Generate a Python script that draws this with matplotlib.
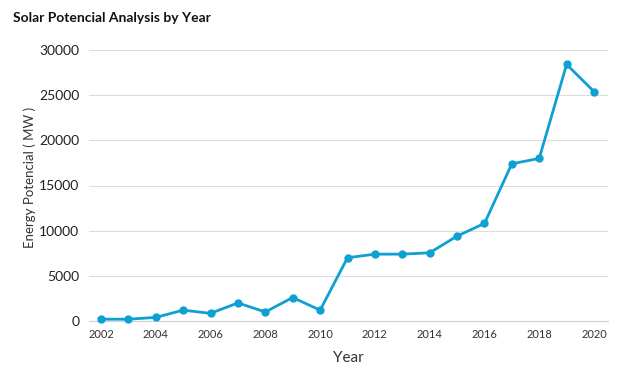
import matplotlib
matplotlib.use("Agg")
import matplotlib.pyplot as plt

years = list(range(2002, 2021))
values = [200, 200, 400, 1200, 850, 2000, 1000, 2600, 1200, 7000,
          7400, 7400, 7550, 9400, 10800, 17400, 18000, 28400, 25400]
xticks = list(range(2002, 2021, 2))
yticks = [0, 5000, 10000, 15000, 20000, 25000, 30000]

plt.rcParams['font.family'] = ['Lato', 'DejaVu Sans']

fig = plt.figure(figsize=(6.29, 3.76), dpi=100)
ax = fig.add_axes([89/629, 1-321/376, (608-89)/629, (321-50)/376])

color = '#0fa0d3'
ax.plot(years, values, color=color, lw=2, marker='o', ms=5, zorder=3, clip_on=False)

ax.set_xlim(2002 - 12/27.39, 2020 + 14/27.39)
ax.set_ylim(0, 30000)
ax.set_xticks(xticks)
ax.set_yticks(yticks)
ax.set_xticklabels([str(t) for t in xticks], fontsize=8, color='#333333')
ax.set_yticklabels([str(t) for t in yticks], fontsize=10, color='#222222')
ax.tick_params(axis='both', length=0)
ax.tick_params(axis='x', pad=6)
ax.tick_params(axis='y', pad=7)
ax.grid(axis='y', color='#dddddd', lw=0.8)
ax.set_axisbelow(True)
for s in ['top', 'right', 'left']:
    ax.spines[s].set_visible(False)
ax.spines['bottom'].set_color('#c8d4e0')
ax.spines['bottom'].set_linewidth(0.8)

ax.set_xlabel('Year', fontsize=11, color='#333333', labelpad=8)
ax.set_ylabel('Energy Potencial ( MW )', fontsize=9.5, color='#333333')
ax.yaxis.set_label_coords((36-89)/519, (321-177)/271)
fig.text(13/629, 1-18/376, 'Solar Potencial Analysis by Year', fontsize=10,
         fontweight='bold', va='center', ha='left', color='#111111')

fig.savefig('out.png', dpi=100)
